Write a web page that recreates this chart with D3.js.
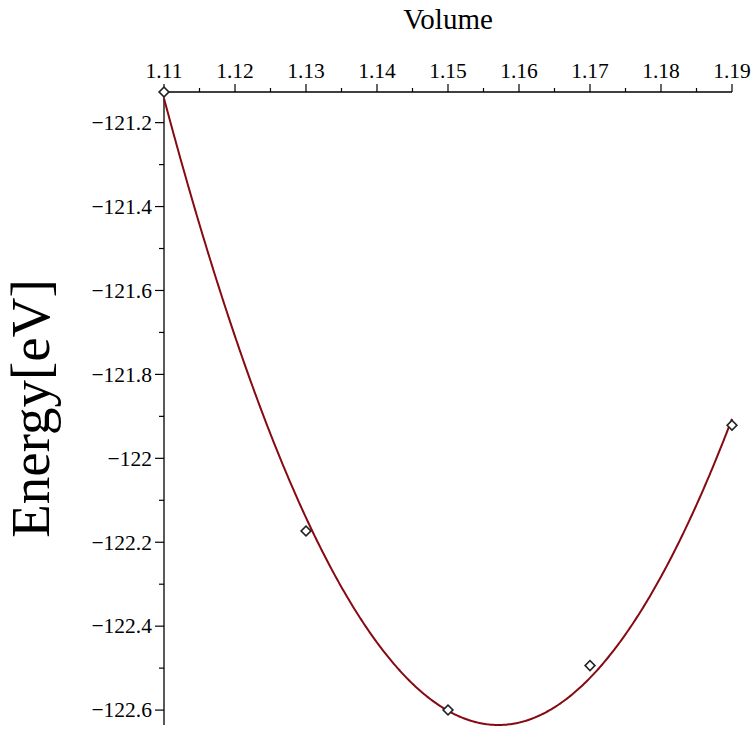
<!DOCTYPE html>
<html>
<head>
<meta charset="utf-8">
<script src="https://cdn.jsdelivr.net/npm/d3@7"></script>
<style>
  html, body { margin: 0; padding: 0; background: #fff; }
  svg { display: block; }
  text { font-family: "Liberation Serif", "DejaVu Serif", serif; fill: #000; }
</style>
</head>
<body>
<svg id="chart" width="753" height="731"></svg>
<script>
// ---- data ----
const volumes  = [1.11, 1.13, 1.15, 1.17, 1.19];
const energies = [-121.127, -122.173, -122.600, -122.494, -121.921];

const xTicks      = [1.11, 1.12, 1.13, 1.14, 1.15, 1.16, 1.17, 1.18, 1.19];
const xTickLabels = ["1.11", "1.12", "1.13", "1.14", "1.15", "1.16", "1.17", "1.18", "1.19"];
const xMinor      = [1.115, 1.125, 1.135, 1.145, 1.155, 1.165, 1.175, 1.185];
const yTicks      = [-121.2, -121.4, -121.6, -121.8, -122.0, -122.2, -122.4, -122.6];
const yTickLabels = ["−121.2", "−121.4", "−121.6", "−121.8", "−122", "−122.2", "−122.4", "−122.6"];
const yMinor      = [-121.3, -121.5, -121.7, -121.9, -122.1, -122.3, -122.5];

const xTitle = "Volume";
const yTitle = "Energy[eV]";

// ---- least-squares quadratic fit of the data ----
function quadFit(xs, ys) {
  const xm = d3.mean(xs);
  const u = xs.map(x => x - xm);
  let S0 = u.length, S1 = 0, S2 = 0, S3 = 0, S4 = 0, T0 = 0, T1 = 0, T2 = 0;
  u.forEach((v, i) => {
    S1 += v; S2 += v*v; S3 += v*v*v; S4 += v*v*v*v;
    T0 += ys[i]; T1 += v*ys[i]; T2 += v*v*ys[i];
  });
  const M = [[S0, S1, S2], [S1, S2, S3], [S2, S3, S4]];
  const R = [T0, T1, T2];
  const det = m => m[0][0]*(m[1][1]*m[2][2]-m[1][2]*m[2][1]) - m[0][1]*(m[1][0]*m[2][2]-m[1][2]*m[2][0]) + m[0][2]*(m[1][0]*m[2][1]-m[1][1]*m[2][0]);
  const D = det(M);
  const coef = [0, 1, 2].map(k => det(M.map((row, r) => row.map((c, j) => j === k ? R[r] : c))) / D);
  return x => { const v = x - xm; return coef[0] + coef[1]*v + coef[2]*v*v; };
}
const fit = quadFit(volumes, energies);
const xExtent = d3.extent(volumes);
const curve = d3.range(0, 401).map(i => {
  const x = xExtent[0] + (xExtent[1] - xExtent[0]) * i / 400;
  return [x, fit(x)];
});

// ---- scales ----
const yTop = d3.max(energies);
const yBottom = d3.min(curve, d => d[1]);
const x = d3.scaleLinear().domain(xExtent).range([164, 732]);
const y = d3.scaleLinear().domain([yBottom, yTop]).range([725, 92]);

const svg = d3.select("#chart");

// ---- x axis (top) ----
const xAxisG = svg.append("g").attr("transform", `translate(0,${y(yTop)})`);
xAxisG.append("line").attr("x1", x(xExtent[0])).attr("x2", x(xExtent[1]))
  .attr("stroke", "#000").attr("stroke-width", 1.3);
xAxisG.selectAll(".xmaj").data(xTicks).join("line")
  .attr("x1", d => x(d)).attr("x2", d => x(d)).attr("y1", 0).attr("y2", -8)
  .attr("stroke", "#000").attr("stroke-width", 1.2);
xAxisG.selectAll(".xmin").data(xMinor).join("line")
  .attr("x1", d => x(d)).attr("x2", d => x(d)).attr("y1", 0).attr("y2", -4)
  .attr("stroke", "#000").attr("stroke-width", 1.2);
xAxisG.selectAll(".xlab").data(xTicks).join("text")
  .attr("x", d => x(d)).attr("y", -14).attr("text-anchor", "middle")
  .attr("font-size", 21.5).text((d, i) => xTickLabels[i]);

// ---- y axis (left) ----
const yAxisG = svg.append("g").attr("transform", `translate(${x(xExtent[0])},0)`);
yAxisG.append("line").attr("y1", y(yTop)).attr("y2", y(yBottom))
  .attr("stroke", "#000").attr("stroke-width", 1.3);
yAxisG.selectAll(".ymaj").data(yTicks).join("line")
  .attr("y1", d => y(d)).attr("y2", d => y(d)).attr("x1", 0).attr("x2", -9)
  .attr("stroke", "#000").attr("stroke-width", 1.2);
yAxisG.selectAll(".ymin").data(yMinor).join("line")
  .attr("y1", d => y(d)).attr("y2", d => y(d)).attr("x1", 0).attr("x2", -5)
  .attr("stroke", "#000").attr("stroke-width", 1.2);
yAxisG.selectAll(".ylab").data(yTicks).join("text")
  .attr("x", -12).attr("y", d => y(d)).attr("dy", "0.34em").attr("text-anchor", "end")
  .attr("font-size", 21.5).text((d, i) => yTickLabels[i]);

// ---- titles ----
svg.append("text").attr("x", (x(xExtent[0]) + x(xExtent[1])) / 2).attr("y", 29)
  .attr("text-anchor", "middle").attr("font-size", 29).text(xTitle);
svg.append("text")
  .attr("transform", `translate(49,${(y(yTop) + y(yBottom)) / 2}) rotate(-90)`)
  .attr("text-anchor", "middle").attr("font-size", 55).text(yTitle);

// ---- fitted curve ----
svg.append("path").datum(curve)
  .attr("d", d3.line().x(d => x(d[0])).y(d => y(d[1])))
  .attr("fill", "none").attr("stroke", "#860a12").attr("stroke-width", 2);

// ---- data points ----
const sym = d3.symbol().type(d3.symbolSquare).size(48);
svg.selectAll(".pt").data(volumes).join("path")
  .attr("d", sym)
  .attr("transform", (d, i) => `translate(${x(d)},${y(energies[i])}) rotate(45)`)
  .attr("fill", "#fff").attr("stroke", "#222").attr("stroke-width", 1.6);
</script>
</body>
</html>
